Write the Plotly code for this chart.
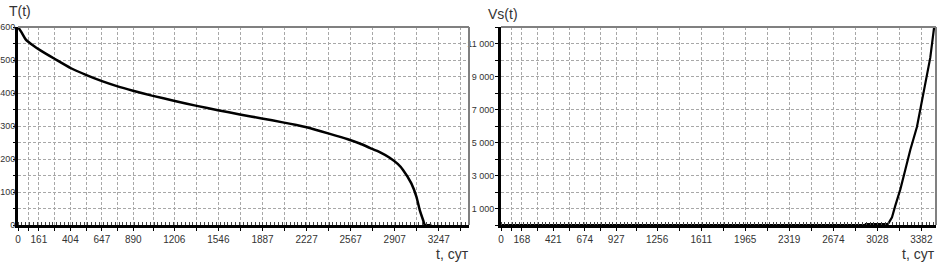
import plotly.graph_objects as go

# ---------------- data ----------------
t_left = [0, 25, 62, 120, 170, 285, 409, 524, 648, 763, 887, 1033, 1210, 1380, 1542,
          1712, 1881, 2043, 2149, 2227, 2400, 2545, 2637, 2714, 2791, 2868, 2930, 2971,
          3035, 3074, 3100, 3125, 3140, 3190]
T_vals = [600, 585, 561, 543, 530, 503, 475, 455, 436, 421, 407, 392, 376, 361, 348,
          335, 323, 311, 303, 296, 277, 260, 247, 234, 221, 204, 185, 167,
          126, 86, 45, 16, 0, 0]

t_right = [0, 2931, 2935, 3110, 3119, 3146, 3172, 3213, 3253, 3293, 3347, 3400, 3454, 3485]
Vs_vals = [0, 0, 60, 60, 120, 460, 1160, 2160, 3350, 4550, 5950, 7950, 10140, 12000]

left_xlabels = [0, 161, 404, 647, 890, 1206, 1546, 1887, 2227, 2567, 2907, 3247]
right_xlabels = [0, 168, 421, 674, 927, 1256, 1611, 1965, 2319, 2674, 3028, 3382]
left_yticks = list(range(0, 601, 50))
right_yticks = list(range(0, 12001, 1000))


def grid_ticks(labels):
    vals, texts = [], []
    for i, v in enumerate(labels):
        vals.append(v)
        texts.append(str(v))
        if i + 1 < len(labels):
            nxt = labels[i + 1]
        else:
            nxt = v + (v - labels[i - 1])
        vals.append((v + nxt) / 2)
        texts.append("")
    return vals, texts


def fmt_thousands(v):
    return f"{v:,}".replace(",", " ")


lx_vals, lx_text = grid_ticks(left_xlabels)
rx_vals, rx_text = grid_ticks(right_xlabels)
ly_text = [str(v) if v % 100 == 0 else "" for v in left_yticks]
ry_text = [fmt_thousands(v) if (v // 1000) % 2 == 1 else "" for v in right_yticks]

# ---------------- figure ----------------
fig = go.Figure()
fig.add_trace(go.Scatter(x=t_left, y=T_vals, mode="lines", xaxis="x", yaxis="y",
                         line=dict(color="black", width=2.5, shape="spline", smoothing=0.6),
                         showlegend=False))
fig.add_trace(go.Scatter(x=t_right, y=Vs_vals, mode="lines", xaxis="x2", yaxis="y2",
                         line=dict(color="black", width=2.2), showlegend=False))

tick_font = dict(family="Liberation Sans Narrow, Arial Narrow, Liberation Sans, sans-serif",
                 size=10, color="#333333")
ytick_font = dict(tick_font, size=9)
grid = dict(showgrid=True, gridcolor="#a8a8a8", gridwidth=1, griddash="3px,2px",
            zeroline=False, automargin=False)

W, H = 937, 263
ML, MR, MT, MB = 18, 1, 27, 38
PW = W - ML - MR
PH = H - MT - MB

fig.update_layout(
    width=W, height=H,
    margin=dict(l=ML, r=MR, t=MT, b=MB, autoexpand=False),
    paper_bgcolor="white", plot_bgcolor="white",
    xaxis=dict(domain=[0, (469 - ML) / PW], range=[0, 3480], tickmode="array",
               tickvals=lx_vals, ticktext=lx_text, showline=True, linecolor="black",
               linewidth=3, ticks="outside", ticklen=3, tickcolor="black",
               tickfont=tick_font,
               minor=dict(ticks="inside", dtick=30, tick0=0, ticklen=3,
                          tickcolor="#444444", showgrid=False),
               anchor="y", **grid),
    yaxis=dict(domain=[0, 1], range=[0, 600], tickmode="array", tickvals=left_yticks,
               ticktext=ly_text, showline=True, linecolor="black", linewidth=3,
               ticks="outside", ticklen=2, tickcolor="black", tickfont=ytick_font,
               ticklabelstandoff=-4, anchor="x", **grid),
    xaxis2=dict(domain=[(501 - ML) / PW, 1], range=[0, 3500], tickmode="array",
                tickvals=rx_vals, ticktext=rx_text, showline=True, linecolor="black",
                linewidth=3, ticks="outside", ticklen=3, tickcolor="black",
                tickfont=tick_font,
                minor=dict(ticks="inside", dtick=30, tick0=0, ticklen=3,
                           tickcolor="#444444", showgrid=False),
                anchor="y2", **grid),
    yaxis2=dict(domain=[0, 1], range=[0, 12000], tickmode="array", tickvals=right_yticks,
                ticktext=ry_text, showline=True, linecolor="black", linewidth=3,
                ticks="outside", ticklen=3, tickcolor="black", tickfont=ytick_font,
                ticklabelstandoff=-1, anchor="x2", **grid),
)

# gray top/right frame
border = dict(color="#808080", width=2)
for xr, yr in (("x domain", "y domain"), ("x2 domain", "y2 domain")):
    fig.add_shape(type="line", xref=xr, yref=yr, x0=0, x1=1, y0=1, y1=1, line=border)
    fig.add_shape(type="line", xref=xr, yref=yr, x0=1, x1=1, y0=0, y1=1, line=border)

title_font = dict(family="Liberation Sans, Arial, sans-serif", size=14, color="#333333")


def px_x(p):
    return (p - ML) / PW


def px_y(p):
    return (MT + PH - p) / PH


fig.add_annotation(text="T(t)", xref="paper", yref="paper", x=px_x(7), y=px_y(11),
                   xanchor="left", yanchor="middle", showarrow=False, font=title_font)
fig.add_annotation(text="Vs(t)", xref="paper", yref="paper", x=px_x(486), y=px_y(14),
                   xanchor="left", yanchor="middle", showarrow=False, font=title_font)
fig.add_annotation(text="t, сут", xref="paper", yref="paper", x=px_x(471), y=px_y(254),
                   xanchor="right", yanchor="middle", showarrow=False, font=title_font)
fig.add_annotation(text="t, сут", xref="paper", yref="paper", x=px_x(937), y=px_y(254),
                   xanchor="right", yanchor="middle", showarrow=False, font=title_font)

fig.write_html("out.html", config={"displayModeBar": False},
               post_script="document.body.style.margin='0';"
                           "document.body.style.overflow='hidden';")
